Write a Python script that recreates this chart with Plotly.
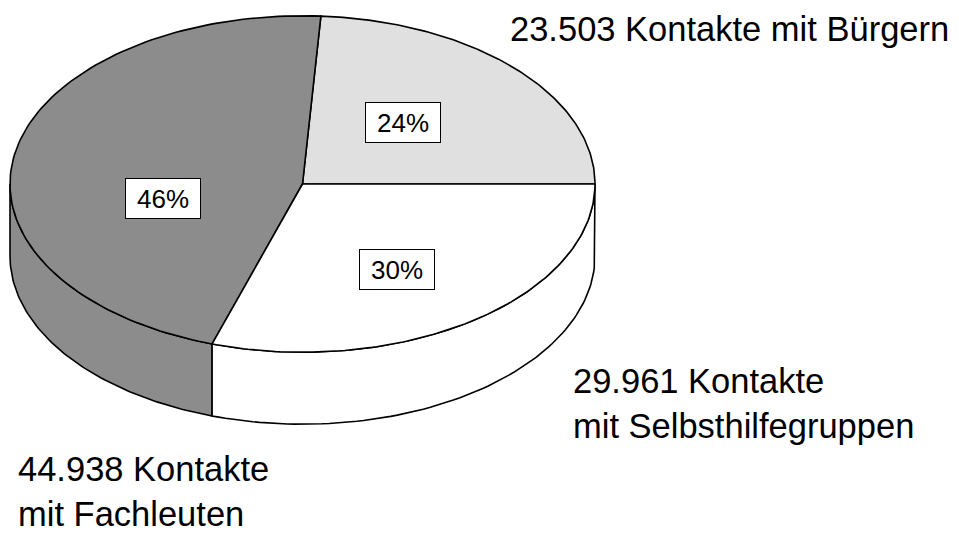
import numpy as np
import plotly.graph_objects as go

# ---- data ----
categories = ["Bürgern", "Fachleuten", "Selbsthilfegruppen"]
contacts = [23503, 44938, 29961]
percent = [24, 46, 30]
fill_colors = ["#e0e0e0", "#8c8c8c", "#ffffff"]

# ---- geometry (layout, in page pixels) ----
W, H = 959, 533
OFF = 8  # default page body margin
cx, cy, rx, ry, depth = 302.5, 184.0, 292.5, 168.2, 72.0


def pt(tdeg, dy=0.0):
    t = np.radians(tdeg)
    return cx + rx * np.cos(t), cy - ry * np.sin(t) + dy


fig = go.Figure()

# angle ranges (counter-clockwise from the right, starting at 0 deg)
ranges = []
start = 0.0
for p in percent:
    ranges.append((start, start + p * 3.6))
    start += p * 3.6

# sides (visible front half: 180..360 deg)
for (a, b), col in zip(ranges, fill_colors):
    lo, hi = max(a, 180.0), min(b, 360.0)
    if hi <= lo:
        continue
    ts = np.linspace(lo, hi, 80)
    top = [pt(t) for t in ts]
    bot = [pt(t, depth) for t in ts[::-1]]
    pts = top + bot + [top[0]]
    fig.add_trace(go.Scatter(
        x=[q[0] for q in pts], y=[q[1] for q in pts], mode="lines",
        fill="toself", fillcolor=col, line=dict(color="black", width=1.6),
        hoverinfo="skip", showlegend=False))

# tops
for (a, b), col, name in zip(ranges, fill_colors, categories):
    ts = np.linspace(a, b, 120)
    pts = [(cx, cy)] + [pt(t) for t in ts] + [(cx, cy)]
    fig.add_trace(go.Scatter(
        x=[q[0] for q in pts], y=[q[1] for q in pts], mode="lines",
        fill="toself", fillcolor=col, line=dict(color="black", width=1.6),
        name=name, hoverinfo="skip", showlegend=False))

font_family = "Liberation Sans, Arial, sans-serif"

# percentage boxes
pct_pos = [(403, 122.5), (163, 198), (397, 269.5)]
for p, (x, y) in zip(percent, pct_pos):
    fig.add_annotation(x=x, y=y, text=f"{p}%", showarrow=False,
                       font=dict(family=font_family, size=26, color="black"),
                       bgcolor="white", bordercolor="black", borderwidth=1,
                       borderpad=2, width=70, height=35,
                       xanchor="center", yanchor="middle")


def fmt(v):
    return f"{v:,}".replace(",", ".")


outer_texts = [
    f"{fmt(contacts[0])} Kontakte mit {categories[0]}",
    f"{fmt(contacts[1])} Kontakte<br>mit {categories[1]}",
    f"{fmt(contacts[2])} Kontakte<br>mit {categories[2]}",
]
outer_pos = [(508, 29), (16, 491), (571, 403)]
for txt, (x, y) in zip(outer_texts, outer_pos):
    fig.add_annotation(x=x, y=y, text=txt, showarrow=False, align="left",
                       font=dict(family=font_family, size=34.5, color="black"),
                       xanchor="left", yanchor="middle")

fig.update_layout(
    width=W - OFF, height=H - OFF, margin=dict(l=0, r=0, t=0, b=0),
    paper_bgcolor="white", plot_bgcolor="white",
    xaxis=dict(range=[OFF, W], visible=False, fixedrange=True),
    yaxis=dict(range=[H, OFF], visible=False, fixedrange=True),
)

fig.write_html("out.html")
